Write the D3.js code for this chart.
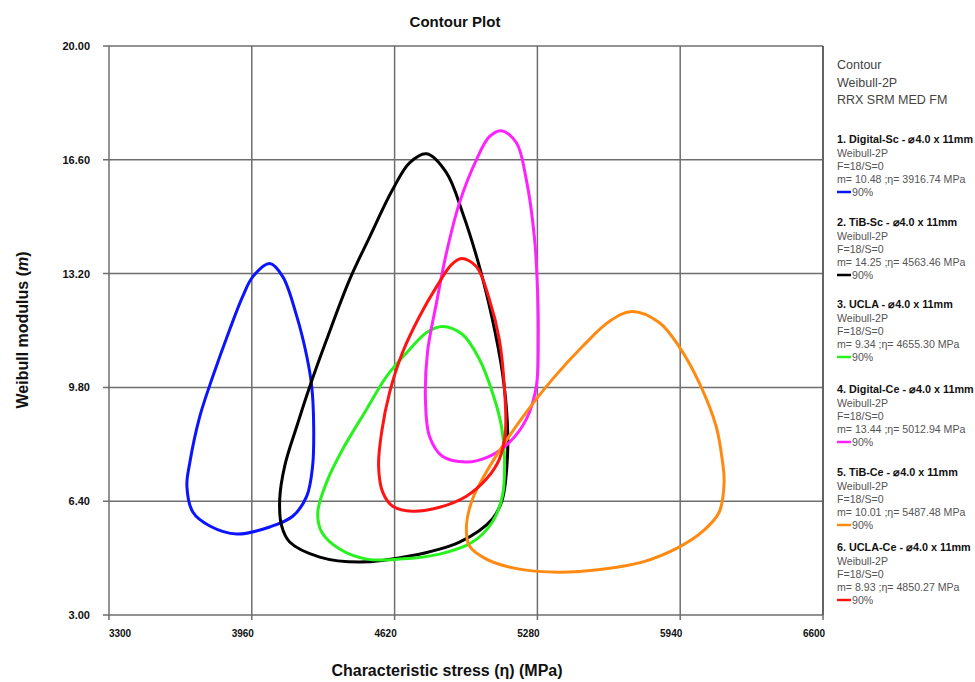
<!DOCTYPE html>
<html>
<head>
<meta charset="utf-8">
<script src="https://cdnjs.cloudflare.com/ajax/libs/d3/7.8.5/d3.min.js"></script>
<style>
  body { margin: 0; background: #fff; }
  text { font-family: "Liberation Sans", Arial, Helvetica, sans-serif; }
</style>
</head>
<body>
<div id="chart"></div>
<script>

var width = 975;
var height = 682;

var marginLeft = 109;
var marginRight = 152;
var marginTop = 46;
var marginBottom = 67;

// axis ticks
var xTicks = [3300, 3960, 4620, 5280, 5940, 6600];
var yTicks = [3.00, 6.40, 9.80, 13.20, 16.60, 20.00];

// legend text
var seriesNames = ['1. Digital-Sc  - \u23004.0 x 11mm', '2. TiB-Sc  - \u23004.0 x 11mm', '3. UCLA  - \u23004.0 x 11mm',
                   '4. Digital-Ce - \u23004.0 x 11mm', '5. TiB-Ce - \u23004.0 x 11mm', '6. UCLA-Ce - \u23004.0 x 11mm'];
var seriesM = ['10.48', '14.25', '9.34', '13.44', '10.01', '8.93'];
var seriesEta = ['3916.74', '4563.46', '4655.30', '5012.94', '5487.48', '4850.27'];
var seriesColors = ['#0b14ff', '#000000', '#27f21e', '#ff22ff', '#ff8a12', '#ff1414'];

// contour points [eta, m]
var contourDigitalSc = [[4043,13.50],[4103,13.11],[4168,11.92],[4214,10.73],[4237,9.83],[4246,8.64],[4241,7.45],
  [4214,6.55],[4149,5.95],[4043,5.63],[3891,5.42],[3766,5.66],[3688,6.07],[3660,6.85],[3674,7.57],[3720,8.94],
  [3780,10.13],[3858,11.53],[3918,12.52],[3965,13.11]];
var contourTiBSc = [[4768,16.78],[4860,16.21],[4934,15.02],[5012,13.41],[5072,11.83],[5118,10.25],[5141,8.76],
  [5141,7.65],[5118,6.46],[5072,5.87],[4920,5.18],[4689,4.76],[4458,4.58],[4274,4.73],[4135,5.18],[4098,5.66],
  [4089,6.46],[4112,7.45],[4168,8.64],[4228,9.83],[4306,11.23],[4412,13.02],[4505,14.30],[4611,15.71],[4689,16.51]];
var contourUCLA = [[4841,11.62],[4934,11.38],[5012,10.64],[5072,9.65],[5114,8.64],[5128,7.65],[5118,6.55],
  [5072,5.78],[4980,5.18],[4828,4.82],[4643,4.67],[4491,4.67],[4366,4.97],[4283,5.48],[4265,6.07],[4306,6.97],
  [4380,7.95],[4491,9.15],[4583,10.13],[4689,10.93],[4768,11.44]];
var contourDigitalCe = [[5114,17.47],[5183,17.11],[5229,16.00],[5266,14.30],[5280,12.81],[5284,11.32],[5275,9.83],
  [5229,8.85],[5151,8.16],[5058,7.74],[4952,7.57],[4841,7.74],[4781,8.34],[4763,9.35],[4772,10.85],[4814,12.34],
  [4860,13.83],[4920,15.32],[4998,16.60],[5058,17.29]];
var contourTiBCe = [[5718,12.07],[5843,11.74],[5935,11.02],[6027,9.95],[6106,8.64],[6134,7.65],[6143,6.97],
  [6120,6.07],[6041,5.48],[5935,5.03],[5764,4.58],[5580,4.37],[5381,4.28],[5197,4.37],[5044,4.67],[4966,5.06],
  [4952,5.66],[4980,6.46],[5044,7.27],[5118,8.04],[5229,9.06],[5349,10.04],[5488,11.02],[5612,11.77]];
var contourUCLACe = [[4929,13.65],[4998,13.41],[5058,12.43],[5104,11.23],[5128,9.74],[5132,8.46],[5104,7.65],
  [5044,7.06],[4952,6.55],[4828,6.22],[4703,6.10],[4611,6.25],[4565,6.67],[4546,7.45],[4560,8.46],[4597,9.65],
  [4657,10.85],[4735,11.92],[4814,12.81],[4883,13.47]];

var contours = [contourDigitalSc, contourTiBSc, contourUCLA, contourDigitalCe, contourTiBCe, contourUCLACe];

var svg = d3.select('#chart')
    .append('svg')
    .attr('width', width)
    .attr('height', height)
    .style('background-color', '#fff');

var x = d3.scaleLinear()
    .domain([3300, 6600])
    .range([marginLeft, width - marginRight]);

var y = d3.scaleLinear()
    .domain([3, 20])
    .range([height - marginBottom, marginTop]);

// grid
svg.append('g')
    .attr('class', 'grid')
    .selectAll('line.v')
    .data(xTicks)
    .enter()
    .append('line')
    .attr('x1', function(d) { return x(d); })
    .attr('x2', function(d) { return x(d); })
    .attr('y1', y(20))
    .attr('y2', y(3) + 5)
    .attr('stroke', '#6e6e6e')
    .attr('stroke-width', 1.5);

svg.append('g')
    .attr('class', 'grid')
    .selectAll('line.h')
    .data(yTicks)
    .enter()
    .append('line')
    .attr('x1', x(3300) - 6)
    .attr('x2', x(6600))
    .attr('y1', function(d) { return y(d); })
    .attr('y2', function(d) { return y(d); })
    .attr('stroke', '#6e6e6e')
    .attr('stroke-width', 1.5);

// tick labels
svg.append('g')
    .selectAll('text')
    .data(yTicks)
    .enter()
    .append('text')
    .attr('x', x(3300) - 19)
    .attr('y', function(d) { return y(d) + 4; })
    .attr('text-anchor', 'end')
    .text(function(d) { return d3.format('.2f')(d); })
    .style('fill', '#111')
    .style('font-size', '11px')
    .style('font-weight', '700');

svg.append('g')
    .selectAll('text')
    .data(xTicks)
    .enter()
    .append('text')
    .attr('x', function(d, i) { return i == 0 ? x(d) + 11 : x(d) - 9; })
    .attr('y', y(3) + 22)
    .attr('text-anchor', 'middle')
    .text(function(d) { return d; })
    .style('fill', '#111')
    .style('font-size', '10px')
    .style('font-weight', '700');

// titles
svg.append('text')
    .attr('x', 455)
    .attr('y', 27)
    .attr('text-anchor', 'middle')
    .text('Contour Plot')
    .style('fill', '#111')
    .style('font-size', '15px')
    .style('font-weight', '700');

var yTitle = svg.append('text')
    .attr('transform', 'translate(28,330) rotate(-90)')
    .attr('text-anchor', 'middle')
    .style('fill', '#111')
    .style('font-size', '16px')
    .style('font-weight', '700');
yTitle.append('tspan').text('Weibull modulus (');
yTitle.append('tspan').style('font-style', 'italic').text('m');
yTitle.append('tspan').text(')');

svg.append('text')
    .attr('x', 447)
    .attr('y', 676)
    .attr('text-anchor', 'middle')
    .text('Characteristic stress (\u03b7) (MPa)')
    .style('fill', '#111')
    .style('font-size', '16px')
    .style('font-weight', '700');

// contours
var line = d3.line()
    .x(function(d) { return x(d[0]); })
    .y(function(d) { return y(d[1]); })
    .curve(d3.curveCatmullRomClosed.alpha(0.5));

svg.append('g')
    .selectAll('path')
    .data(contours)
    .enter()
    .append('path')
    .attr('d', line)
    .attr('fill', 'none')
    .attr('stroke', function(d, i) { return seriesColors[i]; })
    .attr('stroke-width', 3)
    .attr('stroke-linejoin', 'round');

// legend
var legendX = 837;
var legendHead = ['Contour', 'Weibull-2P', 'RRX SRM MED FM'];
svg.append('g')
    .selectAll('text')
    .data(legendHead)
    .enter()
    .append('text')
    .attr('x', legendX)
    .attr('y', function(d, i) { return 69 + i * 17.5; })
    .text(function(d) { return d; })
    .style('fill', '#444')
    .style('font-size', '12.5px');

var entryY = [143, 226, 308, 393, 476, 551];
var entries = svg.append('g')
    .selectAll('g')
    .data(seriesNames)
    .enter()
    .append('g')
    .attr('transform', function(d, i) { return 'translate(' + legendX + ',' + entryY[i] + ')'; });

entries.append('text')
    .text(function(d) { return d; })
    .style('fill', '#111')
    .style('font-size', '10.8px')
    .style('font-weight', '700');

entries.append('text').attr('y', 14).text('Weibull-2P')
    .style('fill', '#555').style('font-size', '10.6px');
entries.append('text').attr('y', 27).text('F=18/S=0')
    .style('fill', '#555').style('font-size', '10.6px');
entries.append('text').attr('y', 40)
    .text(function(d, i) { return 'm= ' + seriesM[i] + ' ;\u03b7= ' + seriesEta[i] + ' MPa'; })
    .style('fill', '#555').style('font-size', '10.6px');
entries.append('line')
    .attr('x1', 0).attr('x2', 14)
    .attr('y1', 49).attr('y2', 49)
    .attr('stroke', function(d, i) { return seriesColors[i]; })
    .attr('stroke-width', 2.5);
entries.append('text').attr('x', 15).attr('y', 53).text('90%')
    .style('fill', '#555').style('font-size', '10.6px');

// right border of the plot
svg.append('line')
    .attr('x1', x(6600)).attr('x2', x(6600))
    .attr('y1', y(20)).attr('y2', y(3))
    .attr('stroke', '#555')
    .attr('stroke-width', 1.5);

</script>
</body>
</html>
